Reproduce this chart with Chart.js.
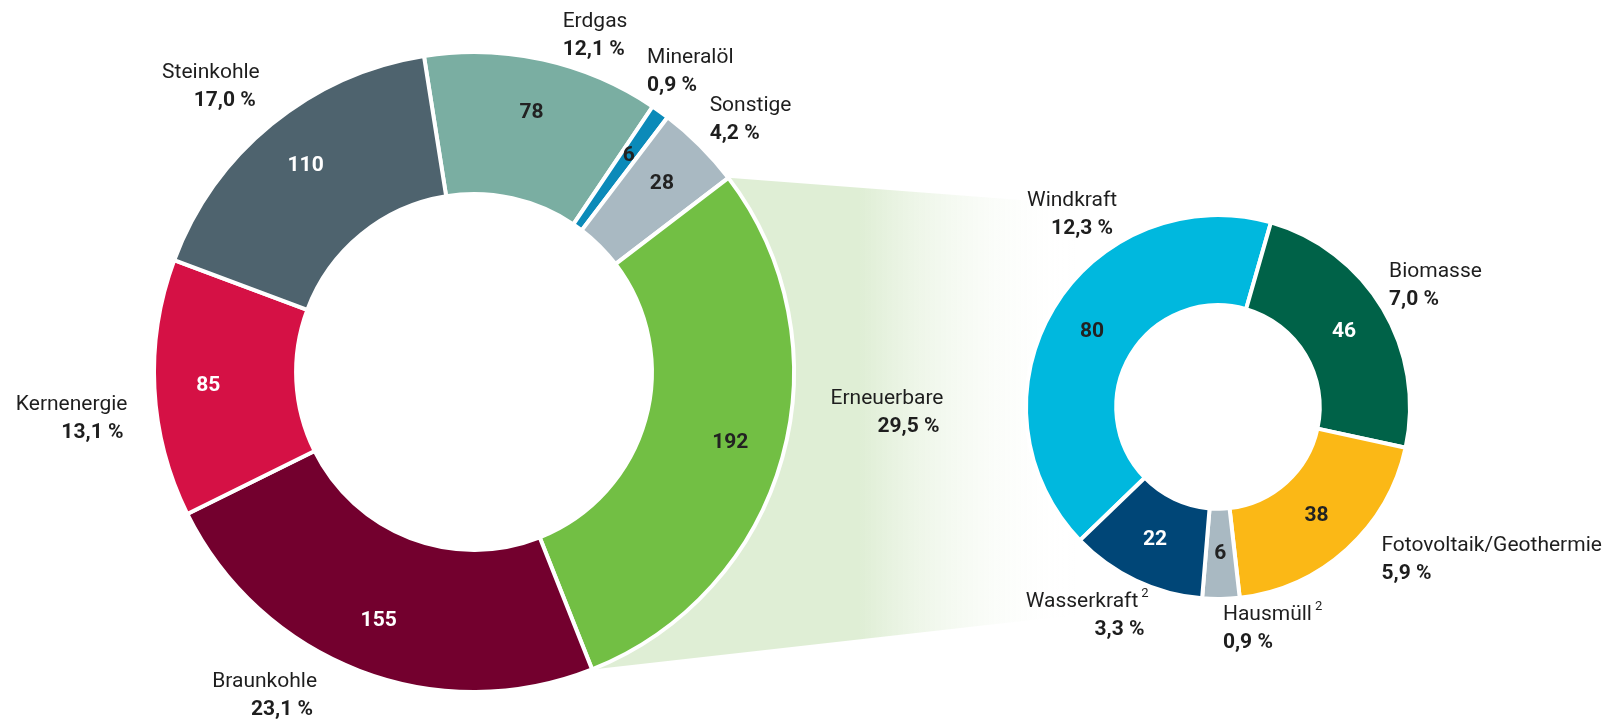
<!DOCTYPE html>
<html>
<head>
<meta charset="utf-8">
<script src="https://cdn.jsdelivr.net/npm/chart.js@4.4.0/dist/chart.umd.min.js"></script>
<style>
  html, body { margin: 0; padding: 0; background: #fff; }
  #wrap { position: relative; width: 1621px; height: 723px; }
  #wrap canvas { position: absolute; left: 0; top: 0; }
</style>
</head>
<body>
<div id="wrap">
  <canvas id="mainChart" width="1621" height="723"></canvas>
  <canvas id="renewChart" width="1621" height="723"></canvas>
</div>
<script>
// Bruttostromerzeugung (TWh) und Anteile
const mainLabels = ['Erdgas', 'Mineralöl', 'Sonstige', 'Erneuerbare', 'Braunkohle', 'Kernenergie', 'Steinkohle'];
const mainValues = [78, 6, 28, 192, 155, 85, 110];
const mainShares = ['12,1 %', '0,9 %', '4,2 %', '29,5 %', '23,1 %', '13,1 %', '17,0 %'];

const renewLabels = ['Windkraft', 'Biomasse', 'Fotovoltaik/Geothermie', 'Hausmüll', 'Wasserkraft'];
const renewValues = [80, 46, 38, 6, 22];
const renewShares = ['12,3 %', '7,0 %', '5,9 %', '0,9 %', '3,3 %'];
const renewNotes = ['', '', '', '2', '2'];

// styles
const mainColors = ['#7aaea2', '#0b8ab9', '#a9b9c2', '#72bf44', '#73002e', '#d51145', '#4e636e'];
const mainValueInk = ['#222', '#222', '#222', '#222', '#fff', '#fff', '#fff'];
const renewColors = ['#00b8de', '#006248', '#fbb816', '#a9b9c2', '#004677'];
const renewValueInk = ['#222', '#fff', '#222', '#222', '#fff'];

// label offsets from the outer edge of each slice
const mainNudge = [
  { dx: 20, dy: -40, align: 'left' },
  { dx: -12, dy: -56, align: 'left' },
  { dx: 11, dy: -41, align: 'left' },
  { dx: 163, dy: -58, align: 'right' },
  { dx: -43, dy: 13, align: 'right' },
  { dx: -29, dy: 16, align: 'right' },
  { dx: -13, dy: -53, align: 'right' }
];
const renewNudge = [
  { dx: 62, dy: -108, align: 'right' },
  { dx: 8, dy: -38, align: 'left' },
  { dx: 36, dy: -2, align: 'left' },
  { dx: 2, dy: 18, align: 'left' },
  { dx: 12, dy: 23, align: 'right' }
];

const ink = '#1e1e1e';
const fontName = '21px Roboto';
const fontBold = 'bold 21px Roboto';

function drawLabels(chart, names, shares, notes, valueInk, nudges, depth) {
  const ctx = chart.ctx;
  const arcs = chart.getDatasetMeta(0).data;
  const vals = chart.data.datasets[0].data;
  ctx.save();
  ctx.textBaseline = 'middle';
  arcs.forEach((arc, i) => {
    const mid = (arc.startAngle + arc.endAngle) / 2;
    const r = arc.innerRadius + depth * (arc.outerRadius - arc.innerRadius);
    ctx.font = fontBold;
    ctx.fillStyle = valueInk[i];
    ctx.textAlign = 'center';
    ctx.fillText(String(vals[i]), arc.x + Math.cos(mid) * r, arc.y + Math.sin(mid) * r);

    const edge = arc.outerRadius - 2;
    const n = nudges[i];
    const x = arc.x + Math.cos(mid) * edge + n.dx;
    const y = arc.y + Math.sin(mid) * edge + n.dy;
    ctx.fillStyle = ink;
    const note = notes ? notes[i] : '';
    ctx.font = '13px Roboto';
    const noteW = note ? ctx.measureText(note).width + 3 : 0;
    ctx.font = fontName;
    const nameW = ctx.measureText(names[i]).width;
    ctx.textAlign = 'left';
    let left = n.align === 'left' ? x : x - nameW - noteW;
    ctx.fillText(names[i], left, y);
    if (note) {
      ctx.font = '13px Roboto';
      ctx.fillText(note, left + nameW + 3, y - 8);
    }
    ctx.font = fontBold;
    if (n.align === 'left') {
      ctx.textAlign = 'left';
      ctx.fillText(shares[i], x, y + 28);
    } else {
      ctx.textAlign = 'right';
      ctx.fillText(shares[i], x - 4, y + 28);
    }
  });
  ctx.restore();
}

const renewChart = new Chart(document.getElementById('renewChart'), {
  type: 'doughnut',
  data: {
    labels: renewLabels,
    datasets: [{
      data: renewValues,
      backgroundColor: renewColors,
      borderColor: '#fff',
      borderWidth: 4
    }]
  },
  options: {
    responsive: false,
    animation: false,
    events: [],
    rotation: -134,
    radius: 192,
    cutout: '53%',
    layout: { padding: { left: 1028, right: 213, top: 217, bottom: 126 } },
    plugins: { legend: { display: false }, tooltip: { enabled: false } }
  },
  plugins: [{
    id: 'renewLabels',
    afterDatasetsDraw(chart) {
      drawLabels(chart, renewLabels, renewShares, renewNotes, renewValueInk, renewNudge, 0.5);
    }
  }]
});

const mainChart = new Chart(document.getElementById('mainChart'), {
  type: 'doughnut',
  data: {
    labels: mainLabels,
    datasets: [{
      data: mainValues,
      backgroundColor: mainColors,
      borderColor: '#fff',
      borderWidth: 4
    }]
  },
  options: {
    responsive: false,
    animation: false,
    events: [],
    rotation: -9,
    radius: 320,
    cutout: '55.6%',
    layout: { padding: { left: 156, right: 829, top: 54, bottom: 33 } },
    plugins: { legend: { display: false }, tooltip: { enabled: false } }
  },
  plugins: [{
    id: 'connector',
    beforeDatasetsDraw(chart) {
      // fan from the "Erneuerbare" slice to the detail ring
      const arc = chart.getDatasetMeta(0).data[mainLabels.indexOf('Erneuerbare')];
      const sub = renewChart.getDatasetMeta(0).data[0];
      const R = arc.outerRadius;
      const ctx = chart.ctx;
      const g = ctx.createLinearGradient(860, 0, 1075, 0);
      g.addColorStop(0, 'rgba(223,238,213,1)');
      g.addColorStop(1, 'rgba(255,255,255,0)');
      ctx.save();
      ctx.fillStyle = g;
      ctx.beginPath();
      ctx.moveTo(arc.x + Math.cos(arc.startAngle) * R, arc.y + Math.sin(arc.startAngle) * R);
      ctx.lineTo(sub.x, sub.y - sub.outerRadius);
      ctx.lineTo(sub.x, sub.y + sub.outerRadius);
      ctx.lineTo(arc.x + Math.cos(arc.endAngle) * R, arc.y + Math.sin(arc.endAngle) * R);
      ctx.closePath();
      ctx.fill();
      ctx.restore();
    },
    afterDatasetsDraw(chart) {
      drawLabels(chart, mainLabels, mainShares, null, mainValueInk, mainNudge, 0.62);
    }
  }]
});
</script>
</body>
</html>
